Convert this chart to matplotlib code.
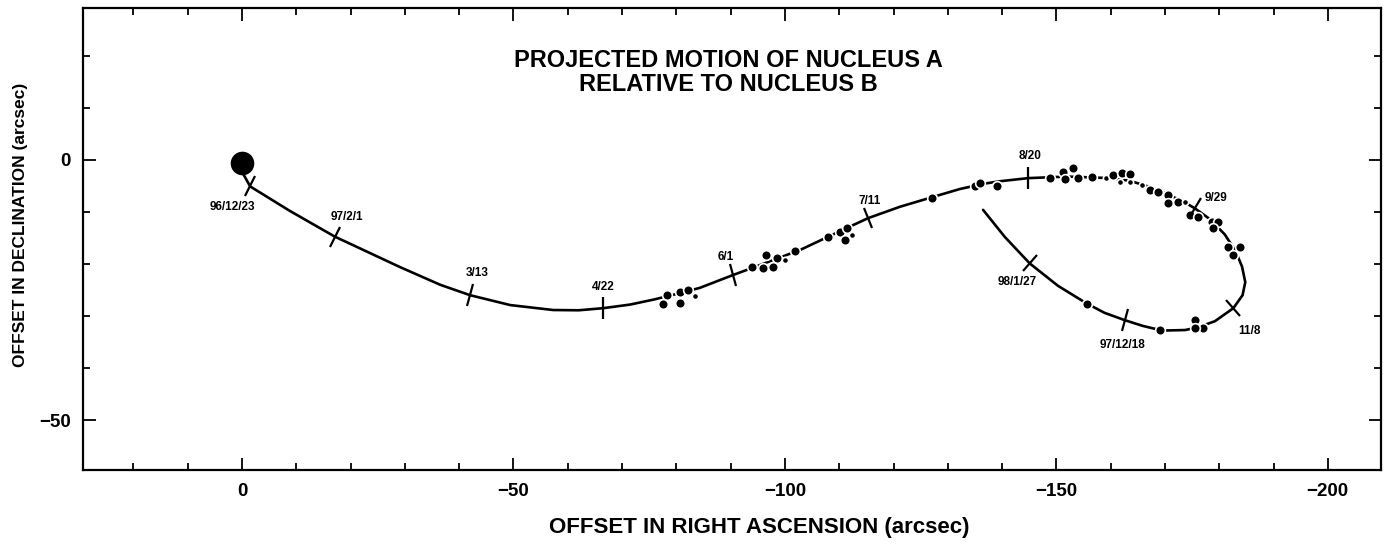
import matplotlib
matplotlib.use("Agg")
import matplotlib.pyplot as plt
from matplotlib.markers import MarkerStyle
from matplotlib.transforms import Affine2D
from matplotlib.ticker import MultipleLocator

# ---- data (arcsec) ----
nucleus_b = (0.0, -0.5)

orbit_x = [0.0, -1.5, -8.8, -17.1, -29.1, -36.5, -42.0, -49.4, -57.3, -62.0, -66.5,
           -71.5, -76.0, -80.7, -84.3, -90.5, -95.4, -102.8, -108.3, -115.3, -121.2,
           -127.0, -132.2, -136.5, -139.6, -144.8, -152.0, -159.9, -163.5, -167.2,
           -170.5, -173.7, -175.5, -178.3, -181.0, -183.0, -184.2, -184.8, -184.3,
           -182.6, -179.2, -176.0, -173.7, -169.5, -165.9, -162.6, -158.9, -155.6,
           -150.3, -145.1, -140.5, -136.5]
orbit_y = [-2.3, -5.1, -9.8, -14.75, -20.6, -24.0, -26.0, -27.9, -28.85, -28.9, -28.5,
           -27.8, -26.8, -25.6, -24.6, -22.1, -20.2, -17.3, -14.6, -11.2, -9.0,
           -7.2, -5.6, -4.6, -4.1, -3.5, -3.2, -3.5, -4.0, -5.2,
           -6.6, -8.2, -9.3, -11.4, -14.3, -17.5, -20.5, -23.5, -26.0,
           -28.5, -31.0, -32.2, -32.7, -32.8, -31.9, -30.8, -29.4, -27.6,
           -24.2, -19.9, -14.8, -9.6]

obs_x = [-78.2, -77.6, -80.7, -82.1, -80.7, -83.4,
         -93.9, -96.6, -98.5, -96.0, -97.8, -100.0, -101.8,
         -108.0, -110.1, -111.4, -111.0, -112.3,
         -127.0, -135.0, -135.9, -139.0,
         -148.8, -151.3, -153.1, -151.6, -154.0, -156.5, -159.2, -160.5, -162.0, -163.5,
         -161.7, -163.5, -165.7, -167.2, -168.7, -170.6, -170.6, -172.4, -173.7,
         -174.6, -176.1, -178.6, -179.8, -178.9, -181.6, -183.8, -182.6,
         -175.5, -177.0, -175.5, -169.1, -155.6]
obs_y = [-26.0, -27.6, -25.3, -25.0, -27.5, -26.2,
         -20.5, -18.3, -18.9, -20.8, -20.5, -19.2, -17.6,
         -14.9, -13.8, -13.1, -15.4, -14.4,
         -7.4, -5.1, -4.4, -5.1,
         -3.5, -2.25, -1.6, -3.7, -3.5, -3.2, -3.5, -2.9, -2.6, -2.7,
         -4.2, -4.2, -4.8, -5.8, -6.1, -6.7, -8.3, -8.0, -8.0,
         -10.6, -10.9, -11.9, -11.9, -13.1, -16.7, -16.7, -18.3,
         -30.8, -32.4, -32.4, -32.6, -27.6]
obs_small = [0, 0, 0, 0, 0, 1,
             0, 0, 0, 0, 0, 1, 0,
             0, 0, 0, 0, 1,
             0, 0, 0, 0,
             0, 0, 0, 0, 0, 0, 1, 0, 0, 0,
             1, 1, 1, 0, 0, 0, 0, 0, 1,
             0, 0, 0, 0, 0, 0, 0, 0,
             0, 0, 0, 0, 0]

date_labels = ["96/12/23", "97/2/1", "3/13", "4/22", "6/1", "7/11", "8/20",
               "9/29", "11/8", "97/12/18", "98/1/27"]
date_x = [-1.5, -17.1, -42.0, -66.5, -90.5, -115.3, -144.8, -175.5, -182.6, -162.6, -145.1]
date_y = [-5.1, -14.75, -26.0, -28.5, -22.1, -11.2, -3.5, -9.3, -28.5, -30.8, -19.9]
date_angle = [65, 62, 75, 90, 104, 112, 90, 60, 131, 72, 48]
label_x = [1.8, -19.3, -43.3, -66.5, -89.1, -115.7, -145.1, -179.4, -185.6, -162.1, -142.7]
label_y = [-9.0, -11.0, -21.7, -24.4, -18.7, -7.9, 0.8, -7.3, -32.9, -35.6, -23.5]

x_ticks = [0, -50, -100, -150, -200]
y_ticks = [0, -50]

font = ['Liberation Sans', 'DejaVu Sans']

fig = plt.figure(figsize=(13.92, 5.49), dpi=100)
ax = fig.add_axes([83/1392, 1-470/549, (1381-83)/1392, (470-8)/549])

ax.plot(orbit_x, orbit_y, color='black', lw=1.9, solid_capstyle='round',
        solid_joinstyle='round', zorder=2)

for xx, yy, s in zip(obs_x, obs_y, obs_small):
    ax.plot(xx, yy, 'o', color='black', ms=4.5 if s else 7,
            mec='white', mew=1.2, zorder=3)

ax.plot(*nucleus_b, 'o', color='black', ms=16, zorder=4)

for xx, yy, a in zip(date_x, date_y, date_angle):
    m = MarkerStyle('|', transform=Affine2D().rotate_deg(a - 90))
    ax.plot(xx, yy, marker=m, color='black', ms=16, mew=1.6, ls='none', zorder=3)

for lab, xx, yy in zip(date_labels, label_x, label_y):
    ax.text(xx, yy, lab, ha='center', va='center', fontsize=8.5,
            fontweight='bold', family=font)

ax.text(0.497, 0.860, "PROJECTED MOTION OF NUCLEUS A\nRELATIVE TO NUCLEUS B",
        transform=ax.transAxes, ha='center', va='center', fontsize=17,
        fontweight='bold', family=font, linespacing=1.05)

ax.set_xlim(29.3, -209.8)
ax.set_ylim(-59.6, 29.2)
ax.set_xticks(x_ticks)
ax.set_yticks(y_ticks)
ax.xaxis.set_minor_locator(MultipleLocator(10))
ax.yaxis.set_minor_locator(MultipleLocator(10))
ax.tick_params(which='both', direction='in', top=True, right=True, width=1.3)
ax.tick_params(which='major', length=9, labelsize=13.5, pad=9)
ax.tick_params(which='minor', length=5)
for lab in ax.get_xticklabels() + ax.get_yticklabels():
    lab.set_fontweight('bold')
    lab.set_family(font)
for sp in ax.spines.values():
    sp.set_linewidth(1.6)

fig.text(759/1392, 1-528/549, "OFFSET IN RIGHT ASCENSION (arcsec)", ha='center',
         va='center', fontsize=16, fontweight='bold', family=font)
fig.text(21/1392, 1-225/549, "OFFSET IN DECLINATION (arcsec)", ha='center',
         va='center', fontsize=12.5, fontweight='bold', family=font, rotation=90)

fig.savefig("out.png", dpi=100)
